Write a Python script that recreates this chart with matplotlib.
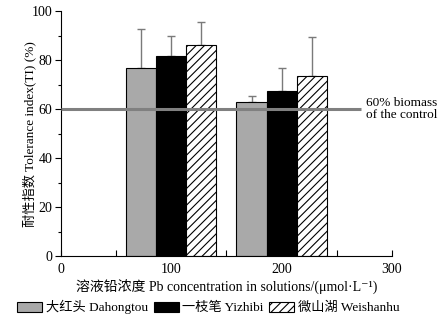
import matplotlib
matplotlib.use("Agg")
import matplotlib.pyplot as plt
from matplotlib.ticker import MultipleLocator
from matplotlib.patches import Patch

plt.rcParams['font.family'] = ['Liberation Serif', 'Noto Sans CJK SC', 'DejaVu Sans']
plt.rcParams['hatch.linewidth'] = 0.8

concentrations = [100, 200]
cultivars = ['大红头 Dahongtou', '一枝笔 Yizhibi', '微山湖 Weishanhu']
means = {
    '大红头 Dahongtou': [76.7, 62.9],
    '一枝笔 Yizhibi': [81.6, 67.2],
    '微山湖 Weishanhu': [86.2, 73.3],
}
errors = {
    '大红头 Dahongtou': [15.9, 2.5],
    '一枝笔 Yizhibi': [8.2, 9.4],
    '微山湖 Weishanhu': [9.2, 16.0],
}
threshold = 60
threshold_label = '60% biomass\nof the control'

colors = ['#a9a9a9', '#000000', '#ffffff']
hatches = [None, None, '////']
bar_w = 27.3

fig = plt.figure(figsize=(4.48, 3.25), dpi=100)
ax = fig.add_axes([0.136, 0.212, 0.739, 0.754])

for i, c in enumerate(cultivars):
    xs = [x + (i - 1) * bar_w for x in concentrations]
    ax.bar(xs, means[c], width=bar_w, color=colors[i], edgecolor='black',
           linewidth=0.8, hatch=hatches[i], zorder=2)
    ax.errorbar(xs, means[c], yerr=[[0, 0], errors[c]], fmt='none',
                ecolor='#7a7a7a', elinewidth=1.0, capsize=3, capthick=1.0, zorder=1)

ax.plot([0, 272], [threshold, threshold], color='#808080', lw=2.2, zorder=3,
        solid_capstyle='butt', clip_on=False)
ax.text(276, threshold, threshold_label, ha='left', va='center', fontsize=9.5,
        linespacing=1.05, clip_on=False)

ax.set_xlim(0, 300)
ax.set_ylim(0, 100)
ax.set_xticks([0, 100, 200, 300])
ax.xaxis.set_minor_locator(MultipleLocator(50))
ax.yaxis.set_major_locator(MultipleLocator(20))
ax.yaxis.set_minor_locator(MultipleLocator(10))
ax.tick_params(axis='x', which='both', direction='in', length=4, width=0.8, labelsize=10, pad=5)
ax.tick_params(axis='y', which='major', direction='out', length=4, width=0.8, labelsize=10, pad=2)
ax.tick_params(axis='y', which='minor', direction='out', length=2.5, width=0.8)
for s in ['top', 'right']:
    ax.spines[s].set_visible(False)
for s in ['left', 'bottom']:
    ax.spines[s].set_linewidth(0.8)

ax.set_xlabel('溶液铅浓度 Pb concentration in solutions/(μmol·L⁻¹)', fontsize=10, labelpad=3)
ax.set_ylabel('耐性指数 Tolerance index(TI) (%)', fontsize=9.5)
ax.yaxis.set_label_coords(-0.073, 0.5)

handles = [Patch(facecolor=colors[i], edgecolor='black', linewidth=0.8, hatch=hatches[i])
           for i in range(3)]
fig.legend(handles, cultivars, loc='center', bbox_to_anchor=(0.465, 0.055), ncol=3,
           frameon=False, fontsize=9.5, handlelength=1.9, handleheight=0.8,
           handletextpad=0.25, columnspacing=0.45, borderaxespad=0)

fig.savefig('out.png', dpi=100)
